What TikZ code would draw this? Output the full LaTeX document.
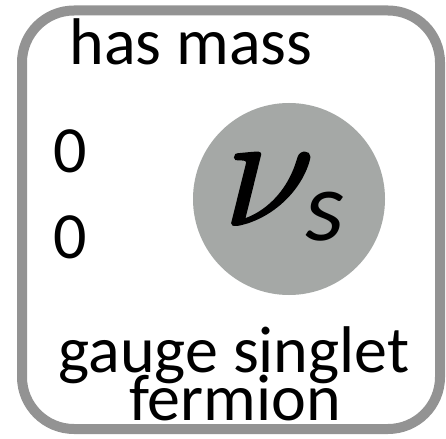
\documentclass[tikz,border=0pt]{standalone}
\usepackage{fontspec}
\setmainfont{Carlito}
\newfontfamily\numath[FakeBold=1.2]{Latin Modern Math}
\definecolor{framegray}{RGB}{147,147,147}
\definecolor{ballgray}{RGB}{165,168,166}
\begin{document}
\begin{tikzpicture}[x=1pt,y=-1pt,
  lbl/.style={inner sep=0pt,anchor=base,font=\fontsize{66}{40}\selectfont},
  sym/.style={inner sep=0pt,anchor=base}]
\useasboundingbox (0,0) rectangle (446,438);
\draw[framegray,line width=10pt,fill=white,rounded corners=52pt] (22,10.5) rectangle (440,429) ;
\node[circle,fill=ballgray,minimum size=192pt,inner sep=0pt] (ball) at (289,199) {};
\node[sym,font=\fontsize{164}{164}\numath] (nu) at (264,225) {𝜈};
\node[sym,font=\fontsize{100}{100}\selectfont\itshape] (s) at (325,240) {s};
\node[lbl] (mass) at (191,65) {has mass};
\node[lbl] (z1) at (70,173) {0};
\node[lbl] (z2) at (70,258) {0};
\node[lbl] (type1) at (234,372) {gauge singlet};
\node[lbl] (type2) at (235,420) {fermion};
\end{tikzpicture}
\end{document}
